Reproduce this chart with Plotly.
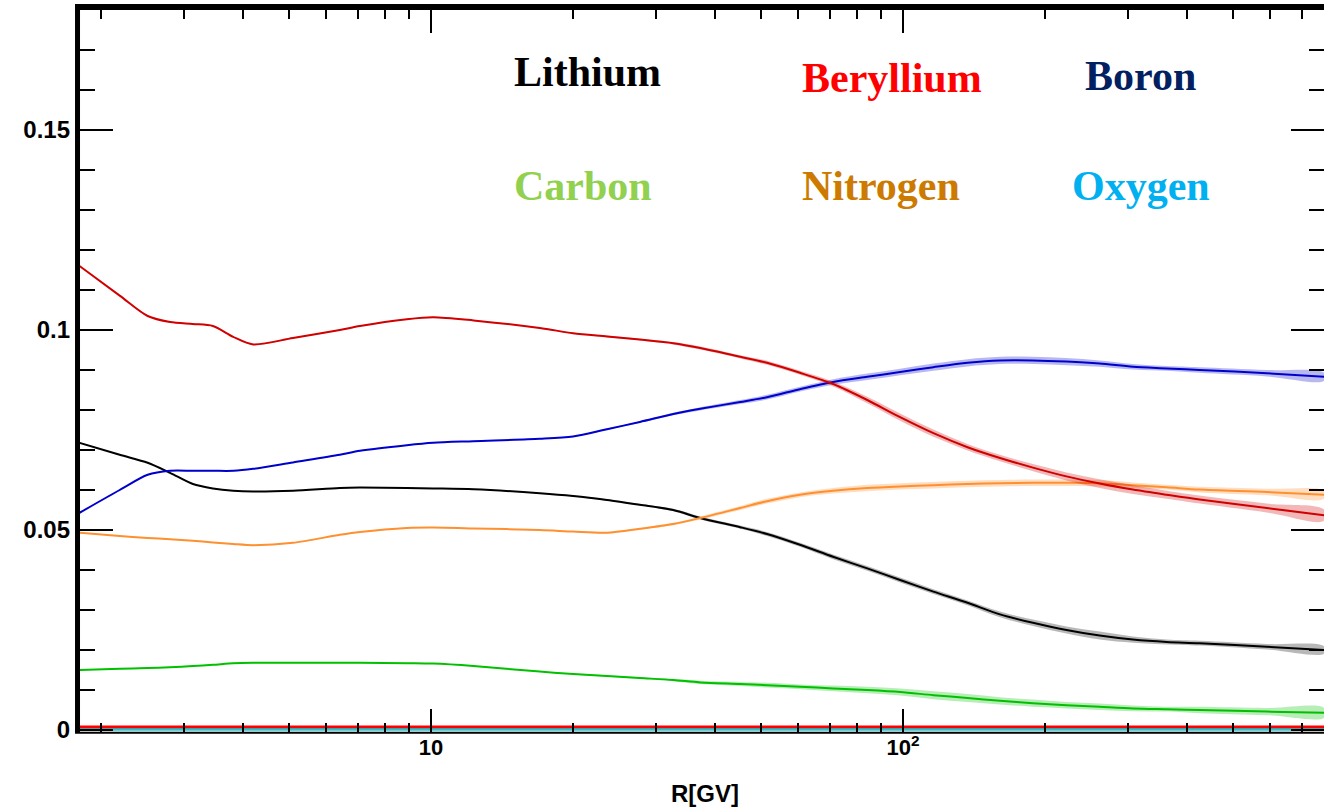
import plotly.graph_objects as go

# Rigidity grid (GV)
R = [1.8, 2.19, 2.51, 2.8, 3.13, 3.45, 3.81, 4.2, 5.1, 6.41, 7.07, 8.89, 10.1, 12.3,
     17.0, 20.0, 23.6, 27.7, 32.6, 37.2, 45.2, 51.5, 60.5, 71.1, 84.0, 98.6, 116,
     137, 160.5, 188.5, 222, 261, 307, 362, 425, 590, 780]

lithium = [0.0718, 0.0688, 0.0668, 0.0643, 0.0615, 0.0604, 0.0598, 0.0596, 0.0598, 0.0605,
           0.0606, 0.0605, 0.0604, 0.0602, 0.0592, 0.0585, 0.0575, 0.0563, 0.0550, 0.0530,
           0.0507, 0.0490, 0.0463, 0.0433, 0.0404, 0.0375, 0.0346, 0.0318, 0.0289, 0.0268,
           0.0250, 0.0236, 0.0226, 0.0220, 0.0217, 0.0208, 0.0200]
lithium_err = [0.0001, 0.0001, 0.0001, 0.0001, 0.0001, 0.0001, 0.0001, 0.0001,
               0.0001, 0.0001, 0.0001, 0.0001, 0.0001, 0.0001, 0.0001, 0.0001, 0.0002,
               0.0002, 0.0003, 0.0004, 0.0004, 0.0005, 0.0005, 0.0006, 0.0006, 0.0006,
               0.0006, 0.0006, 0.0007, 0.0008, 0.0009, 0.0010, 0.0008, 0.0006, 0.0006,
               0.0007, 0.0009]

beryllium = [0.1160, 0.1086, 0.1035, 0.1020, 0.1015, 0.1010, 0.0983, 0.0964, 0.0980, 0.1000,
             0.1010, 0.1027, 0.1032, 0.1024, 0.1005, 0.0992, 0.0984, 0.0976, 0.0967, 0.0955,
             0.0933, 0.0918, 0.0893, 0.0865, 0.0825, 0.0782, 0.0742, 0.0707, 0.0680, 0.0656,
             0.0634, 0.0616, 0.0601, 0.0588, 0.0576, 0.0555, 0.0537]
beryllium_err = [0.0001, 0.0001, 0.0001, 0.0001, 0.0001, 0.0001, 0.0001, 0.0001, 0.0001,
                 0.0001, 0.0001, 0.0001, 0.0001, 0.0001, 0.0001, 0.0001, 0.0002, 0.0002,
                 0.0003, 0.0004, 0.0004, 0.0005, 0.0005, 0.0006, 0.0008, 0.0009, 0.0009,
                 0.0008, 0.0008, 0.0009, 0.0010, 0.0011, 0.0011, 0.0010, 0.0010, 0.0011,
                 0.0014]

boron = [0.0543, 0.0600, 0.0638, 0.0648, 0.0648, 0.0648, 0.0648, 0.0653, 0.0669, 0.0688,
         0.0698, 0.0712, 0.0718, 0.0722, 0.0728, 0.0734, 0.0752, 0.0770, 0.0790, 0.0803,
         0.0820, 0.0832, 0.0852, 0.0870, 0.0883, 0.0895, 0.0907, 0.0918, 0.0924, 0.0924,
         0.0921, 0.0916, 0.0908, 0.0904, 0.0900, 0.0892, 0.0883]
boron_err = [0.0001, 0.0001, 0.0001, 0.0001, 0.0001, 0.0001, 0.0001, 0.0001, 0.0001, 0.0001,
             0.0001, 0.0001, 0.0001, 0.0001, 0.0001, 0.0001, 0.0002, 0.0002, 0.0003, 0.0004,
             0.0005, 0.0006, 0.0006, 0.0007, 0.0008, 0.0008, 0.0009, 0.0009, 0.0009, 0.0009,
             0.0009, 0.0008, 0.0007, 0.0006, 0.0007, 0.0008, 0.0010]

nitrogen = [0.0493, 0.0485, 0.0480, 0.0477, 0.0473, 0.0469, 0.0465, 0.0462, 0.0468, 0.0488,
            0.0495, 0.0505, 0.0506, 0.0504, 0.0500, 0.0496, 0.0493, 0.0503, 0.0515, 0.0530,
            0.0555, 0.0572, 0.0588, 0.0598, 0.0605, 0.0609, 0.0612, 0.0615, 0.0617, 0.0618,
            0.0618, 0.0617, 0.0612, 0.0607, 0.0601, 0.0595, 0.0588]
nitrogen_err = [0.0001, 0.0001, 0.0001, 0.0001, 0.0001, 0.0001, 0.0001, 0.0001, 0.0001,
                0.0001, 0.0001, 0.0001, 0.0001, 0.0001, 0.0001, 0.0001, 0.0002, 0.0002,
                0.0003, 0.0004, 0.0005, 0.0006, 0.0006, 0.0007, 0.0008, 0.0008, 0.0008,
                0.0008, 0.0008, 0.0008, 0.0008, 0.0008, 0.0007, 0.0006, 0.0007, 0.0008,
                0.0010]

carbon = [0.0150, 0.0153, 0.0155, 0.0157, 0.0160, 0.0163, 0.0167, 0.0168, 0.0168, 0.0168,
          0.0168, 0.0167, 0.0166, 0.0160, 0.0146, 0.0140, 0.0135, 0.0130, 0.0125, 0.0119,
          0.0115, 0.0112, 0.0108, 0.0104, 0.0100, 0.0095, 0.0087, 0.0080, 0.0073, 0.0067,
          0.0062, 0.0058, 0.0054, 0.0052, 0.0050, 0.0046, 0.0043]
carbon_err = [0.0001, 0.0001, 0.0001, 0.0001, 0.0001, 0.0001, 0.0001, 0.0001, 0.0001, 0.0001,
              0.0001, 0.0001, 0.0001, 0.0001, 0.0001, 0.0001, 0.0002, 0.0002, 0.0003, 0.0004,
              0.0005, 0.0006, 0.0006, 0.0007, 0.0008, 0.0009, 0.0010, 0.0010, 0.0009, 0.0009,
              0.0008, 0.0008, 0.0007, 0.0006, 0.0008, 0.0009, 0.0012]

# near-zero series
R_flat = [1.8, 780]
zero_red = [0.0006, 0.0006]
oxygen = [0.0001, 0.0001]

label_names = ["Lithium", "Beryllium", "Boron", "Carbon", "Nitrogen", "Oxygen"]
label_colors = ["#000000", "#ff0000", "#002060", "#92d050", "#cc7a00", "#00b0f0"]

y_major = [0, 0.05, 0.1, 0.15]
y_major_text = ["0", "0.05", "0.1", "0.15"]
y_minor = [0.01, 0.02, 0.03, 0.04, 0.06, 0.07, 0.08, 0.09, 0.11, 0.12, 0.13, 0.14,
           0.16, 0.17]
x_major = [10, 100]
x_major_text = ["10", "10<sup>2</sup>"]
x_minor = [2, 3, 4, 5, 6, 7, 8, 9, 20, 30, 40, 50, 60, 70, 80, 90,
           200, 300, 400, 500, 600, 700]

series = [
    (carbon, carbon_err, "#00c000", "rgba(0,192,0,0.28)"),
    (lithium, lithium_err, "#000000", "rgba(0,0,0,0.28)"),
    (nitrogen, nitrogen_err, "#ff9030", "rgba(255,144,48,0.3)"),
    (boron, boron_err, "#0000cc", "rgba(0,0,204,0.28)"),
    (beryllium, beryllium_err, "#d00000", "rgba(208,0,0,0.28)"),
]

fig = go.Figure()
for vals, err, col, bandcol in series:
    hi = [v + e for v, e in zip(vals, err)]
    lo = [v - e for v, e in zip(vals, err)]
    fig.add_trace(go.Scatter(x=R + R[::-1], y=hi + lo[::-1], fill="toself",
                             fillcolor=bandcol, line=dict(width=0, shape="spline"),
                             mode="lines", hoverinfo="skip", showlegend=False))
    fig.add_trace(go.Scatter(x=R, y=vals, mode="lines",
                             line=dict(color=col, width=2, shape="spline", smoothing=0.8),
                             showlegend=False))

fig.add_trace(go.Scatter(x=R_flat, y=zero_red, mode="lines",
                         line=dict(color="#ff0000", width=4), showlegend=False))
fig.add_trace(go.Scatter(x=R_flat, y=oxygen, mode="lines",
                         line=dict(color="#1ec8d2", width=2.5), showlegend=False))

# element labels
label_pos = [(512, 72), (800, 78), (1083, 76), (512, 186), (800, 186), (1070, 186)]
L, T, W, H = 80, 10, 1244, 722
for name, col, (px, py) in zip(label_names, label_colors, label_pos):
    fig.add_annotation(x=(px - L) / W, y=1 - (py - T) / H, xref="paper", yref="paper",
                       text=name, showarrow=False, xanchor="left", yanchor="middle",
                       font=dict(family="Liberation Serif", size=42, color=col,
                                 weight="bold"))

fig.add_annotation(x=(705 - L) / W, y=1 - (793 - T) / H, xref="paper", yref="paper",
                   text="R[GV]", showarrow=False, xanchor="center", yanchor="middle",
                   font=dict(family="Liberation Sans", size=24, color="black",
                             weight="bold"))

x_lo = 1 + (80 - 431) / 472
x_hi = 2 + (1324 - 903) / 472

fig.update_xaxes(type="log", range=[x_lo, x_hi], showgrid=False, zeroline=False,
                 automargin=False,
                 tickmode="array", tickvals=x_major, ticktext=x_major_text,
                 ticks="inside", ticklen=23, tickwidth=2, tickcolor="black",
                 tickfont=dict(family="Liberation Sans", size=22, color="black",
                               weight="bold"),
                 showline=False, mirror="allticks",
                 minor=dict(tickmode="array", tickvals=x_minor, ticks="inside",
                            ticklen=9, tickwidth=2, tickcolor="black", showgrid=False))
fig.update_yaxes(range=[-0.0005, 0.18], showgrid=False, zeroline=False,
                 automargin=False, ticklabelstandoff=9,
                 tickmode="array", tickvals=y_major, ticktext=y_major_text,
                 ticks="inside", ticklen=33, tickwidth=2, tickcolor="black",
                 tickfont=dict(family="Liberation Sans", size=24, color="black",
                               weight="bold"),
                 showline=False, mirror="allticks",
                 minor=dict(tickmode="array", tickvals=y_minor, ticks="inside",
                            ticklen=15, tickwidth=2, tickcolor="black", showgrid=False))

# frame lines: thick left and top, thin bottom
fig.add_shape(type="line", xref="paper", yref="paper", x0=-0.002, x1=-0.002, y0=0, y1=1.008,
              line=dict(color="black", width=5))
fig.add_shape(type="line", xref="paper", yref="paper", x0=-0.004, x1=1, y0=1.004, y1=1.004,
              line=dict(color="black", width=6))
fig.add_shape(type="line", xref="paper", yref="paper", x0=-0.004, x1=1, y0=-0.001, y1=-0.001,
              line=dict(color="black", width=2))

fig.update_layout(width=1324, height=810, margin=dict(l=80, r=0, t=10, b=78),
                  plot_bgcolor="white", paper_bgcolor="white", showlegend=False)

fig.write_html("out.html")
